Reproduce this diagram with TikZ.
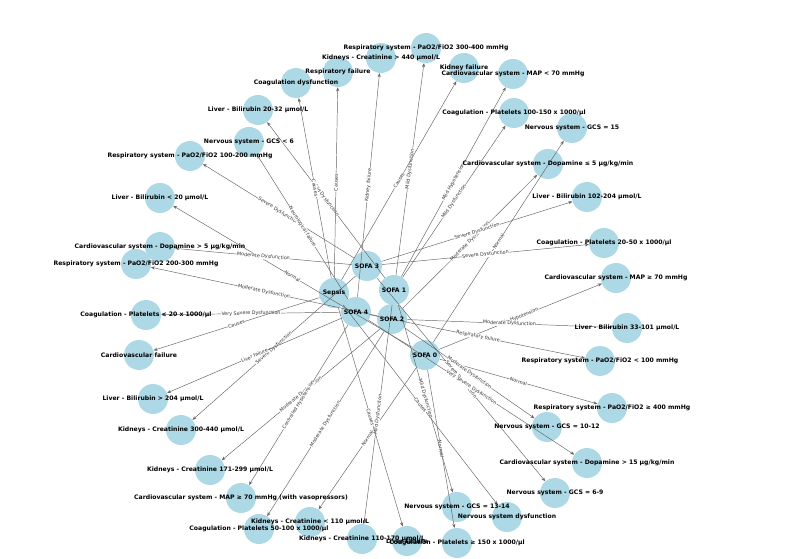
\documentclass[tikz,border=0pt]{standalone}
\usepackage{fontspec}
\setsansfont{DejaVu Sans}
\usetikzlibrary{arrows.meta}
\definecolor{lightblue}{HTML}{ADD8E6}
\tikzset{
  dot/.style={circle,fill=lightblue,draw=none,minimum size=22.5pt,inner sep=0pt},
  lab/.style={font=\sffamily\bfseries\fontsize{4.6}{5.5}\selectfont,text=black,inner sep=0pt},
  link/.style={draw=gray!80!black,line width=0.35pt,-{Stealth[length=3pt,width=2.4pt]}},
  elab/.style={font=\sffamily\fontsize{3.6}{4}\selectfont,text=black!80,fill=white,inner sep=0.3pt,sloped,pos=0.5}
}
\begin{document}
\begin{tikzpicture}[x=0.75pt,y=-0.75pt]
\useasboundingbox (0,0) rectangle (806,559);
% Drawing centre nodes
\node[dot] (sepsis) at (334,293) {};
\node[dot] (s3) at (367,266) {};
\node[dot] (s1) at (394,290) {};
\node[dot] (s4) at (356,312) {};
\node[dot] (s2) at (392,319) {};
\node[dot] (s0) at (425,355) {};
% Drawing outer nodes
\foreach \n/\x/\y in {r34/426/48, k440/381/58, rfail/338/72, cdys/296/83, kfail/464/68,
  map70/513/74, c100/514/113, g15/572/128, l20a/258/110, g6/249/142, r12/190/156,
  dle5/548/164, l102/587/197, l20/160/198, c20/604/243, dgt5/160/247, r23/136/264,
  mapok/616/278, clt20/146/315, l33/627/328, cvfail/139/355, r1/600/361, l204/153/399,
  r4/612/408, k300/181/430, g10/547/427, d15/587/463, k171/210/470, g69/555/493,
  mapv/241/498, c50/259/529, k110/310/522, k170/362/539, lfail/407/541, c150/457/543,
  g13/457/507, ndys/507/517}
  \node[dot] (\n) at (\x,\y) {};
% Drawing connectors
\foreach \a/\b/\t in {
  s0/g15/Normal, s0/l20/Normal, s0/r4/Normal, s0/c150/Normal, s0/k110/Normal, s0/mapok/No Hypotension,
  s1/r34/Mild Dysfunction, s1/l20a/Mild Dysfunction, s1/c100/Mild Dysfunction, s1/g13/Mild Dysfunction,
  s1/k170/Mild Dysfunction, s1/map70/Mild Hypotension,
  s2/r23/Moderate Dysfunction, s2/l33/Moderate Dysfunction, s2/c50/Moderate Dysfunction,
  s2/g10/Moderate Dysfunction, s2/k171/Moderate Dysfunction, s2/dle5/Moderate Dysfunction,
  s3/r12/Severe Dysfunction, s3/l102/Severe Dysfunction, s3/c20/Severe Dysfunction,
  s3/g69/Severe Dysfunction, s3/k300/Severe Dysfunction, s3/dgt5/Moderate Dysfunction,
  s4/r1/Respiratory failure, s4/l204/Liver failure, s4/clt20/Very Severe Dysfunction,
  s4/g6/Neurological failure, s4/k440/Kidney failure, s4/d15/Very Severe Dysfunction,
  s4/mapv/Controlled Hypotension,
  sepsis/rfail/Causes, sepsis/cdys/Causes, sepsis/kfail/Causes, sepsis/cvfail/Causes,
  sepsis/lfail/Causes, sepsis/ndys/Causes}
  \draw[link] (\a) -- (\b) node[elab] {\t};
% Drawing texts
\foreach \n/\t in {sepsis/Sepsis, s0/SOFA 0, s1/SOFA 1, s2/SOFA 2, s3/SOFA 3, s4/SOFA 4,
  r34/{Respiratory system - PaO2/FiO2 300-400 mmHg}, k440/{Kidneys - Creatinine > 440 µmol/L},
  rfail/Respiratory failure, cdys/Coagulation dysfunction, kfail/Kidney failure,
  map70/Cardiovascular system - MAP < 70 mmHg, c100/{Coagulation - Platelets 100-150 x 1000/µl},
  g15/Nervous system - GCS = 15, l20a/{Liver - Bilirubin 20-32 µmol/L}, g6/Nervous system - GCS < 6,
  r12/{Respiratory system - PaO2/FiO2 100-200 mmHg}, dle5/{Cardiovascular system - Dopamine ≤ 5 µg/kg/min},
  l102/{Liver - Bilirubin 102-204 µmol/L}, l20/{Liver - Bilirubin < 20 µmol/L},
  c20/{Coagulation - Platelets 20-50 x 1000/µl}, dgt5/{Cardiovascular system - Dopamine > 5 µg/kg/min},
  r23/{Respiratory system - PaO2/FiO2 200-300 mmHg}, mapok/Cardiovascular system - MAP ≥ 70 mmHg,
  clt20/{Coagulation - Platelets < 20 x 1000/µl}, l33/{Liver - Bilirubin 33-101 µmol/L},
  cvfail/Cardiovascular failure, r1/{Respiratory system - PaO2/FiO2 < 100 mmHg},
  l204/{Liver - Bilirubin > 204 µmol/L}, r4/{Respiratory system - PaO2/FiO2 ≥ 400 mmHg},
  k300/{Kidneys - Creatinine 300-440 µmol/L}, g10/Nervous system - GCS = 10-12,
  d15/{Cardiovascular system - Dopamine > 15 µg/kg/min}, k171/{Kidneys - Creatinine 171-299 µmol/L},
  g69/Nervous system - GCS = 6-9, mapv/Cardiovascular system - MAP ≥ 70 mmHg (with vasopressors),
  c50/{Coagulation - Platelets 50-100 x 1000/µl}, k110/{Kidneys - Creatinine < 110 µmol/L},
  k170/{Kidneys - Creatinine 110-170 µmol/L}, lfail/Liver failure,
  c150/{Coagulation - Platelets ≥ 150 x 1000/µl}, g13/Nervous system - GCS = 13-14,
  ndys/Nervous system dysfunction}
  \node[lab] at (\n) {\t};
\end{tikzpicture}
\end{document}
